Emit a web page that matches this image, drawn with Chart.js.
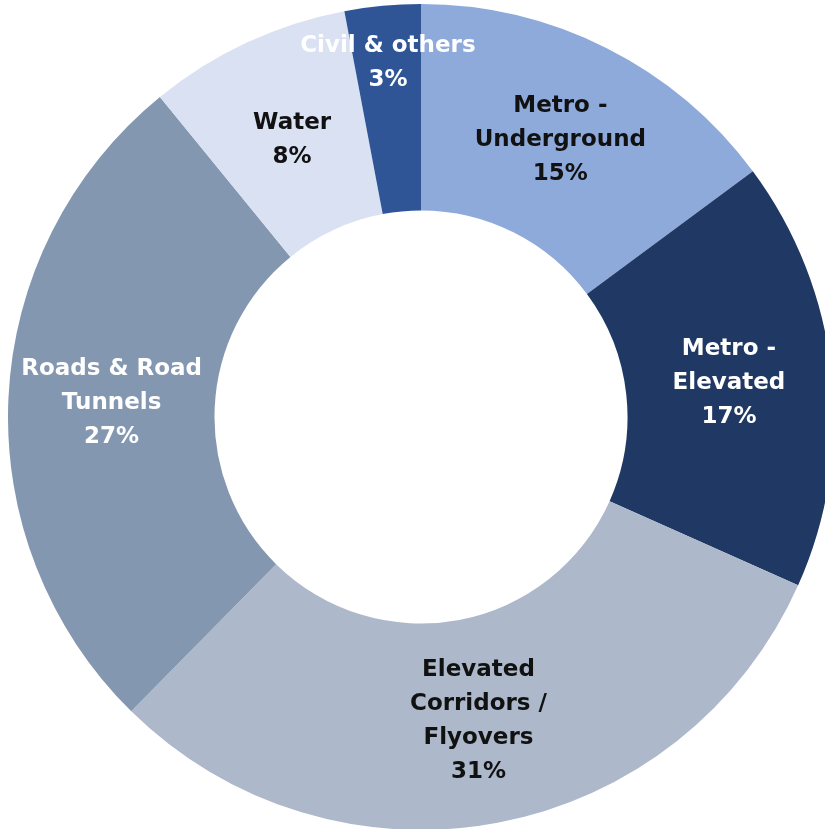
<!DOCTYPE html>
<html lang="en">
<head>
  <meta charset="UTF-8">
  <title>Project mix</title>
  <style>
    html, body {
      margin: 0;
      padding: 0;
      background: #fff;
      overflow: hidden;
      width: 825px;
      height: 829px;
    }
    /* chart is a bit bigger than the window, the edges get cut like in the original */
    .chart-box {
      position: absolute;
      left: 8px;
      top: 4px;
      width: 826px;
      height: 826px;
    }
  </style>
  <script src="https://cdn.jsdelivr.net/npm/chart.js"></script>
</head>
<body>
  <div class="chart-box">
    <canvas id="mix-chart"></canvas>
  </div>

  <script>
    const labels = [
      ['Metro -', 'Underground'],
      ['Metro -', 'Elevated'],
      ['Elevated', 'Corridors /', 'Flyovers'],
      ['Roads & Road', 'Tunnels'],
      ['Water'],
      ['Civil & others']
    ];
    const shares = [15, 17, 31, 27, 8, 3];
    const sliceColors = ['#8eaadb', '#203864', '#adb9ca', '#8497b0', '#d9e1f2', '#2f5597'];
    const textColors = ['#111', '#fff', '#111', '#fff', '#111', '#fff'];

    // draws the text inside each slice (no datalabels plugin available)
    const sliceLabels = {
      id: 'sliceLabels',
      afterDatasetsDraw(chart, args, opts) {
        const ctx = chart.ctx;
        const meta = chart.getDatasetMeta(0);
        ctx.save();
        ctx.font = opts.font;
        ctx.textAlign = 'center';
        ctx.textBaseline = 'middle';
        meta.data.forEach(function (arc, i) {
          const p = arc.getProps(['x', 'y', 'startAngle', 'endAngle', 'innerRadius', 'outerRadius']);
          const mid = (p.startAngle + p.endAngle) / 2;
          const f = opts.radiusFactor[i] || 0.5;
          const r = p.innerRadius + (p.outerRadius - p.innerRadius) * f;
          const cx = p.x + Math.cos(mid) * r;
          const cy = p.y + Math.sin(mid) * r;
          const lines = labels[i].concat([shares[i] + '%']);
          const top = cy - (lines.length - 1) * opts.lineHeight / 2;
          ctx.fillStyle = textColors[i];
          lines.forEach(function (line, k) {
            ctx.fillText(line, cx, top + k * opts.lineHeight);
          });
        });
        ctx.restore();
      }
    };

    new Chart(document.getElementById('mix-chart'), {
      type: 'doughnut',
      data: {
        labels: labels.map(l => l.join(' ')),
        datasets: [{
          data: shares,
          backgroundColor: sliceColors,
          borderWidth: 0
        }]
      },
      options: {
        responsive: true,
        maintainAspectRatio: false,
        animation: false,
        cutout: '50%',
        layout: { padding: 0 },
        plugins: {
          legend: { display: false },
          tooltip: { enabled: false },
          sliceLabels: {
            font: 'bold 23px "DejaVu Sans"',
            lineHeight: 34,
            radiusFactor: [0.5, 0.5, 0.5, 0.5, 0.48, 0.72]
          }
        }
      },
      plugins: [sliceLabels]
    });
  </script>
</body>
</html>
